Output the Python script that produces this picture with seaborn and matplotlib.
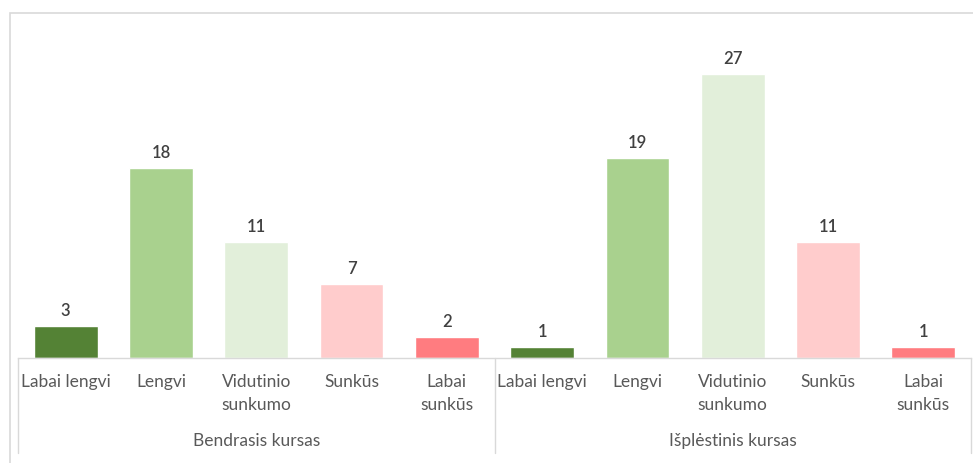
import matplotlib
matplotlib.use("Agg")
import matplotlib.pyplot as plt
import matplotlib.transforms as mtransforms
from matplotlib.patches import Rectangle
import seaborn as sns
import pandas as pd

groups = ["Bendrasis kursas", "Išplėstinis kursas"]
categories = ["Labai lengvi", "Lengvi", "Vidutinio\nsunkumo", "Sunkūs", "Labai\nsunkūs"]
values_bendrasis = [3, 18, 11, 7, 2]
values_isplestinis = [1, 19, 27, 11, 1]
colors = ["#548235", "#A9D18E", "#E2EFDA", "#FFCCCC", "#FF7C80"]

rows = []
for g, vals in zip(groups, [values_bendrasis, values_isplestinis]):
    for c, v in zip(categories, vals):
        rows.append({"group": g, "category": c, "key": g + "|" + c, "value": v})
df = pd.DataFrame(rows)
palette = {r["key"]: colors[categories.index(r["category"])] for _, r in df.iterrows()}

sns.set_theme(style="white")
plt.rcParams["font.family"] = ["Lato", "DejaVu Sans"]

W, H = 973, 464
fig = plt.figure(figsize=(W / 100, H / 100), dpi=100)
ax = fig.add_axes([18 / W, (H - 359) / H, (971 - 18) / W, (359 - 43) / H])

sns.barplot(data=df, x="key", y="value", hue="key", palette=palette,
            order=list(df["key"]), hue_order=list(df["key"]),
            width=0.67, legend=False, ax=ax, saturation=1)

ax.set_ylim(0, 30)
ax.set_xlim(-0.5, len(df) - 0.5)
ax.set_xlabel("")
ax.set_ylabel("")
ax.set_yticks([])
ax.set_xticks([])
for s in ["top", "left", "right"]:
    ax.spines[s].set_visible(False)
ax.spines["bottom"].set_color("#D9D9D9")
ax.spines["bottom"].set_linewidth(1)

# data labels
for i, v in enumerate(df["value"]):
    ax.annotate(str(v), xy=(i, v), xytext=(0, 8), textcoords="offset pixels",
                ha="center", va="bottom", fontsize=12, color="#404040",
                fontweight="semibold")

# category labels
for i, c in enumerate(df["category"]):
    ax.annotate(c, xy=(i, 0), xycoords=("data", "axes fraction"),
                xytext=(0, -15), textcoords="offset pixels",
                ha="center", va="top", fontsize=12.5, color="#595959",
                linespacing=1.55)

# group labels
n = len(categories)
for gi, g in enumerate(groups):
    center = gi * n + (n - 1) / 2
    ax.annotate(g, xy=(center, 0), xycoords=("data", "axes fraction"),
                xytext=(0, -82), textcoords="offset pixels",
                ha="center", va="center", fontsize=12.5, color="#595959")

# separators
trans = mtransforms.blended_transform_factory(ax.transData, ax.transAxes)
sep_len = 95 / (359 - 43)
for xpos in [-0.5, n - 0.5, 2 * n - 0.5]:
    ax.plot([xpos, xpos], [0, -sep_len], transform=trans, color="#D9D9D9",
            lw=1, clip_on=False)

# chart border (partially cropped)
fig.patches.append(Rectangle((10 / W, -0.1), 1.2, (H - 14) / H + 0.1,
                             transform=fig.transFigure, fill=False,
                             edgecolor="#D9D9D9", lw=1.2))

fig.savefig("out.png", dpi=100)
